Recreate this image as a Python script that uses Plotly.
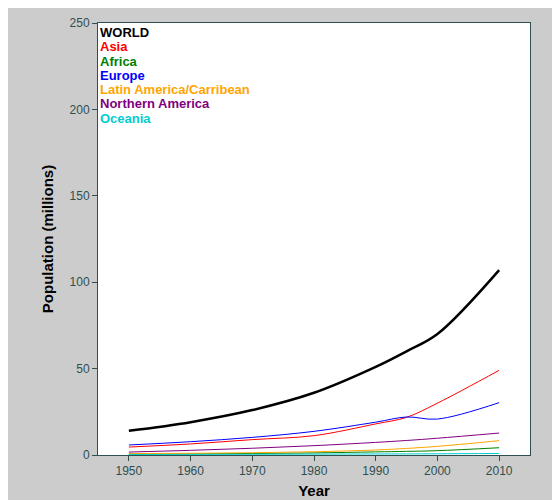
import plotly.graph_objects as go

years = [1950, 1960, 1970, 1980, 1990, 1995, 2000, 2010]
world = [14, 19, 26, 36, 51, 60, 70, 107]
asia = [4.6, 6.4, 8.9, 11.2, 18, 21.8, 30, 49]
africa = [0.5, 0.6, 0.9, 1.2, 1.8, 2.1, 2.5, 4.2]
europe = [5.8, 7.7, 10.2, 13.7, 19, 22, 20.8, 30.3]
latam = [0.8, 1.0, 1.3, 1.9, 2.9, 3.8, 5.0, 8.3]
namerica = [1.7, 2.7, 3.9, 5.4, 7.3, 8.4, 9.7, 12.7]
oceania = [0.3, 0.35, 0.4, 0.5, 0.6, 0.65, 0.7, 0.9]

series = [
    ("WORLD", world, "black", 2.5),
    ("Asia", asia, "red", 1),
    ("Africa", africa, "green", 1),
    ("Europe", europe, "blue", 1),
    ("Latin America/Carribean", latam, "orange", 1),
    ("Northern America", namerica, "purple", 1),
    ("Oceania", oceania, "darkturquoise", 1),
]

fig = go.Figure()
for i, (name, vals, col, w) in enumerate(series):
    fig.add_trace(go.Scatter(x=years, y=vals, mode="lines", name=name,
                             line=dict(color=col, width=w, shape="spline")))
    fig.add_annotation(text="<b>%s</b>" % name, xref="paper", yref="paper",
                       x=0.0, y=1.0 - 0.033 * i, xanchor="left", yanchor="top",
                       showarrow=False, font=dict(color=col, size=13))

fig.update_layout(
    width=560, height=500, showlegend=False,
    paper_bgcolor="#cccccc", plot_bgcolor="white",
    margin=dict(l=90, r=38, t=15, b=53),
    font=dict(family="Liberation Sans, Arial", size=12, color="#2f4f4f"),
)
axis = dict(showgrid=False, zeroline=False, showline=True, linecolor="#2f4f4f",
            mirror=True, ticks="outside", ticklen=5, tickcolor="#2f4f4f",
            automargin=False)
fig.update_xaxes(range=[1945, 2015], tickvals=list(range(1950, 2011, 10)),
                 title=dict(text="<b>Year</b>", standoff=8,
                            font=dict(size=15, color="black")), **axis)
fig.update_yaxes(range=[0, 250], tickvals=list(range(0, 251, 50)),
                 title=dict(text="<b>Population (millions)</b>", standoff=12,
                            font=dict(size=15, color="black")), **axis)

fig.write_html("out.html")
